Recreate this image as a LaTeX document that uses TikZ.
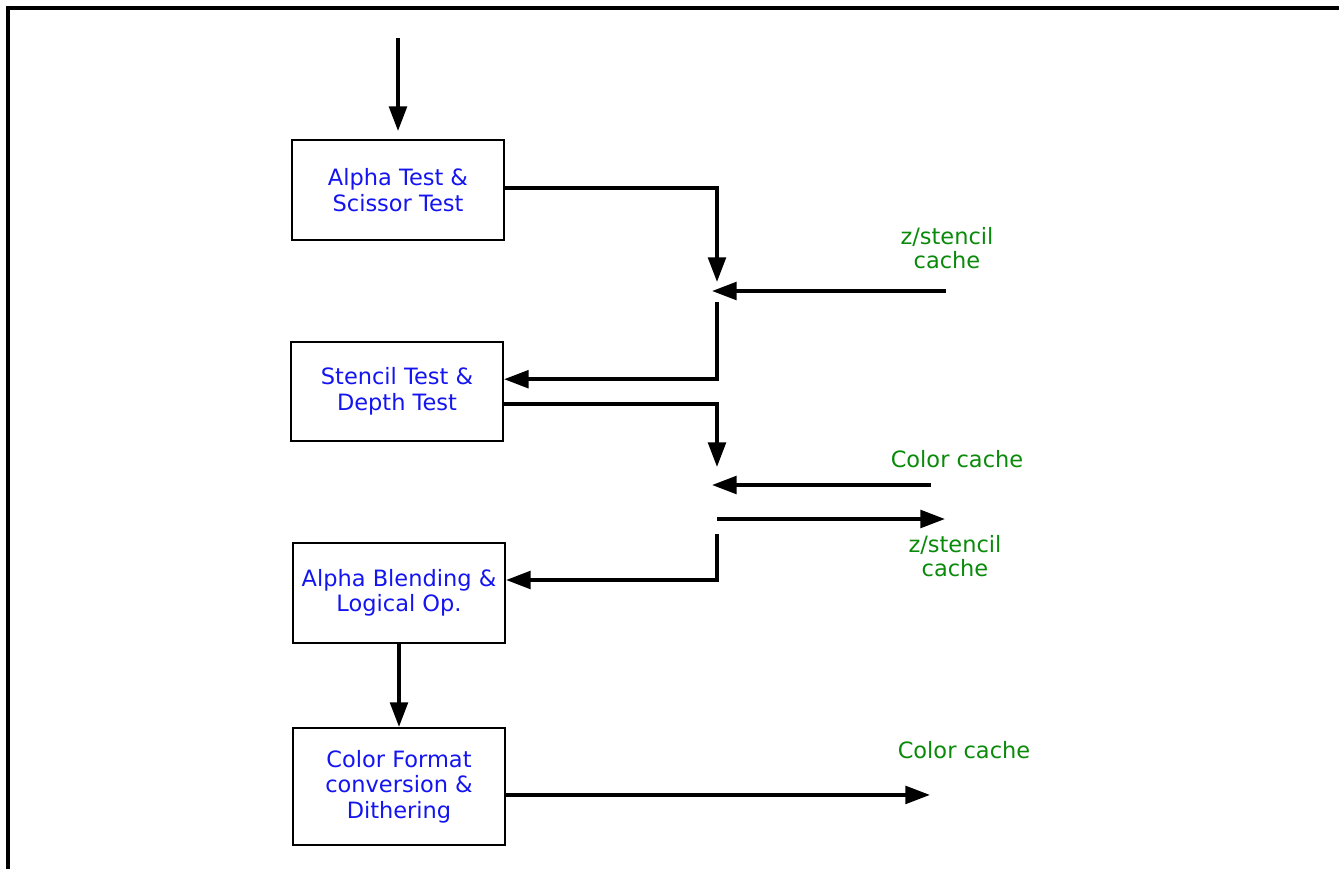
\documentclass[tikz,border=0pt]{standalone}
\usepackage{fontspec}
\setmainfont{DejaVu Sans}
\usetikzlibrary{arrows.meta, positioning, calc}
\definecolor{cblue}{HTML}{1414F0}
\definecolor{cgreen}{HTML}{0A8A0A}
\tikzset{
  every picture/.style={line width=2pt},
  box/.style={draw=black, line width=1.2pt, align=center, minimum width=4.24cm, inner sep=0pt, text=cblue, font=\fontsize{12.8}{14.5}\selectfont},
  arrow/.style={-{Triangle[length=14pt, width=10pt]}, line width=2.1pt},
  cache/.style={text=cgreen, align=center, font=\fontsize{12.8}{14}\selectfont},
}
\begin{document}
\begin{tikzpicture}[x=0.02cm, y=-0.02cm]
  \useasboundingbox (0,0) rectangle (1339,869);
  \draw (8,869) -- (8,8) -- (1339,8);
  \foreach \n/\x/\y/\h/\t in {b1/398/190/2cm/{Alpha Test \&\\Scissor Test},
      b2/397/391.5/1.98cm/{Stencil Test \&\\Depth Test},
      b3/399/593/2cm/{Alpha Blending \&\\Logical Op.},
      b4/399/786.5/2.34cm/{Color Format\\conversion \&\\Dithering}}
    \node[box, minimum height=\h] (\n) at (\x,\y) {\t};
  \node[cache] (zs1) at (947,248) {z/stencil\\cache};
  \node[cache] (cc1) at (957,459) {Color cache};
  \node[cache] (zs2) at (955,556) {z/stencil\\cache};
  \node[cache] (cc2) at (964,750) {Color cache};
  \coordinate (in) at (398,38);
  \coordinate (j1a) at (717,282);
  \coordinate (j1b) at (712,291);
  \coordinate (j1c) at (717,302);
  \coordinate (zr1) at (946,291);
  \coordinate (j2a) at (717,467);
  \coordinate (j2b) at (712,485);
  \coordinate (cr1) at (931,485);
  \coordinate (j2c) at (717,519);
  \coordinate (zr2) at (945,519);
  \coordinate (j2d) at (717,534);
  \coordinate (cr2) at (930,795);
  \coordinate (b4o) at ([yshift=-4.8pt]b4.east);
  \draw[arrow, shorten >=4.5pt] (in) -- (b1.north);
  \draw[arrow] ([yshift=1pt]b1.east) -| (j1a);
  \draw[arrow] (zr1) -- (j1b);
  \draw[arrow] (j1c) |- ([yshift=7pt]b2.east);
  \draw[arrow] ([yshift=-7pt]b2.east) -| (j2a);
  \draw[arrow] (cr1) -- (j2b);
  \draw[arrow] (j2c) -- (zr2);
  \draw[arrow] (j2d) |- ([yshift=7.4pt]b3.east);
  \draw[arrow] (b3.south) -- (b4.north);
  \draw[arrow] (b4o) -- (b4o -| cr2);
\end{tikzpicture}
\end{document}
